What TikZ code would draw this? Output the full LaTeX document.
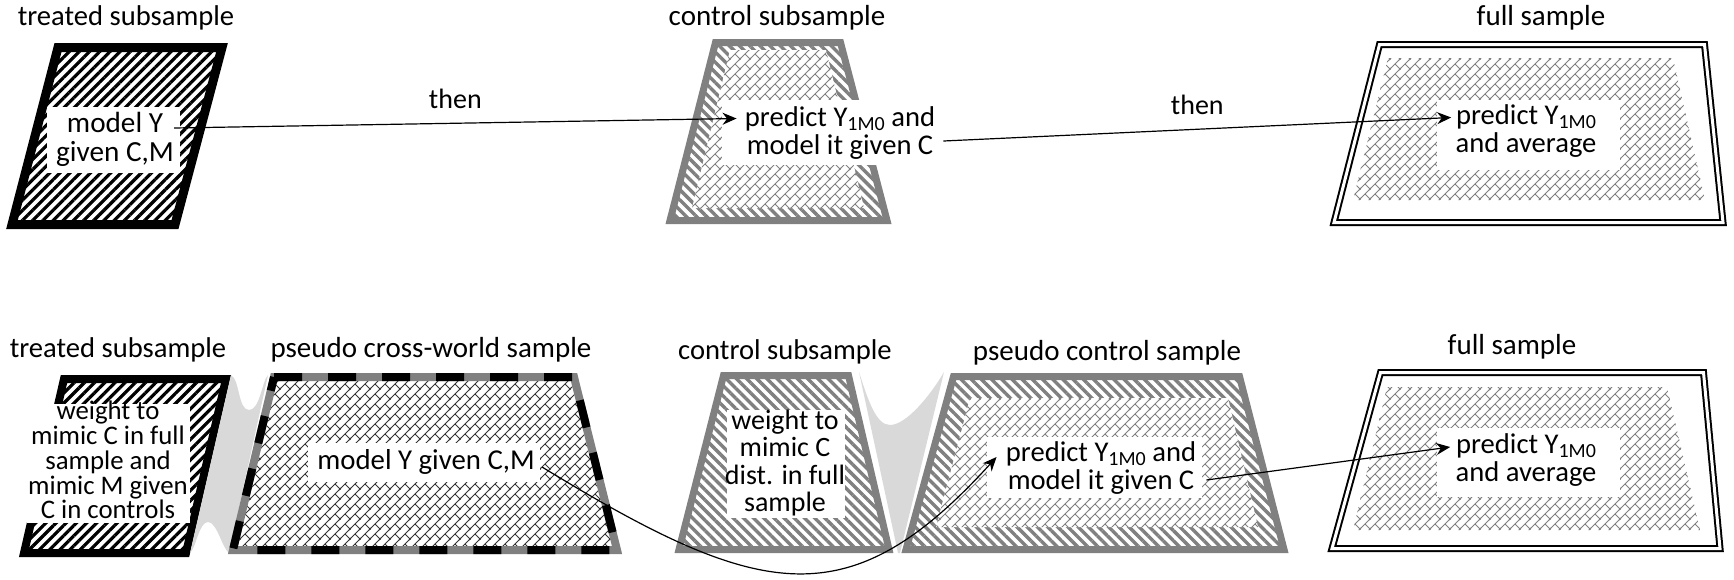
\documentclass[tikz,border=0pt]{standalone}
\usepackage{fontspec}
\setmainfont{Carlito}
\usetikzlibrary{patterns,patterns.meta,arrows.meta}

% diagonal brick tile: long "/" courses with short "\" joints
\pgfdeclarepatternformonly{diagbricks}{\pgfqpoint{-0.6pt}{-0.6pt}}{\pgfqpoint{5.6pt}{5.6pt}}{\pgfqpoint{5pt}{5pt}}{
  \pgfsetlinewidth{0.5pt}
  \pgfpathmoveto{\pgfqpoint{-0.6pt}{-0.6pt}}\pgfpathlineto{\pgfqpoint{5.6pt}{5.6pt}}
  \pgfpathmoveto{\pgfqpoint{5.3pt}{-0.3pt}}\pgfpathlineto{\pgfqpoint{2.5pt}{2.5pt}}
  \pgfusepath{stroke}}

\definecolor{bordergray}{HTML}{808080}
\definecolor{funnelgray}{HTML}{D9D9D9}

\newcommand{\fsz}[1]{\fontsize{#1}{#1}\selectfont}
% small lowered index, as in Y_{1M0}
\newcommand{\idx}[1]{\raisebox{-1.8pt}{\fontsize{10}{10}\selectfont #1}}

\tikzset{
  ttl/.style={font=\fsz{#1}, inner sep=0pt},
  txt/.style={align=center, inner sep=0pt},
  blackstripes/.style={pattern={Lines[angle=45,distance=3.6pt,line width=1.6pt]}, pattern color=black},
  graystripes/.style={pattern={Lines[angle=-45,distance=3.6pt,line width=1.7pt]}, pattern color=bordergray},
  bricks/.style={pattern=diagbricks, pattern color=#1},
  grayborder/.style={draw=bordergray, line width=3.5pt, line join=miter},
  blackborder/.style={draw=black, line width=#1, line join=miter},
  doubleborder/.style={draw=black, double=white, double distance=1.5pt, line width=1pt, line join=miter},
  whitebox/.style={fill=white},
  funnel/.style={fill=funnelgray},
  conn/.style={line width=0.6pt, -{Stealth[length=7pt,width=6pt]}},
  thenlbl/.style={font=\fsz{14}, inner sep=0pt},
}

\begin{document}
\begin{tikzpicture}[x=0.5pt,y=-0.5pt]
\useasboundingbox (0,0) rectangle (1734,579);

% ---------------- top row ----------------
% treated subsample
\draw[blackborder=4.5pt, blackstripes] (58,47.5) -- (222,47.5) -- (175,224.5) -- (12,224.5) -- cycle;
% control subsample
\path[graystripes] (715.5,42.5) -- (840.5,42.5) -- (887,220.5) -- (670,220.5) -- cycle;
\fill[white] (730,50) -- (826,50) -- (864,208) -- (692,208) -- cycle;
\path[bricks=bordergray] (730,50) -- (826,50) -- (864,208) -- (692,208) -- cycle;
\draw[grayborder] (715.5,42.5) -- (840.5,42.5) -- (887,220.5) -- (670,220.5) -- cycle;
% full sample
\path[bricks=gray] (1388,58) -- (1673,58) -- (1705,200) -- (1353,200) -- cycle;
\draw[doubleborder] (1379.5,44.5) -- (1704.5,44.5) -- (1723,222.5) -- (1334,222.5) -- cycle;

% text panels
\fill[whitebox] (47,107) rectangle (180,173);
\fill[whitebox] (722,100) rectangle (950,165);
\fill[whitebox] (1437,100) rectangle (1620,170);

% ---------------- bottom row ----------------
% treated subsample
\draw[blackborder=4pt, blackstripes] (64,379) -- (226,379) -- (186,553) -- (24,553) -- cycle;
% reweighting band
\fill[funnel] (231,375) .. controls (240,380) and (238,410) .. (249,410)
  .. controls (260,410) and (262,381) .. (268,375) -- (229,553)
  .. controls (222,548) and (217,522) .. (208,522)
  .. controls (199,522) and (196,548) .. (190,553) -- cycle;
% pseudo cross-world sample
\path[bricks=black!80] (274,377) -- (574,377) -- (617,550) -- (233,550) -- cycle;
\draw[draw=bordergray, line width=4pt, line join=miter] (274,377) -- (574,377) -- (617,550) -- (233,550) -- cycle;
\draw[draw=black, line width=4pt, dash pattern=on 14pt off 13pt] (274,377) -- (574,377) -- (617,550) -- (233,550) -- cycle;
% control subsample
\draw[grayborder, graystripes] (723.5,375.5) -- (848.5,375.5) -- (889,549.5) -- (679,549.5) -- cycle;
% reweighting band
\fill[funnel] (859,372) .. controls (868,400) and (876,425) .. (890,425)
  .. controls (906,425) and (930,396) .. (944,372) -- (900,553) -- (898,553) -- cycle;
% pseudo control sample
\path[graystripes] (953.5,376.5) -- (1239.5,376.5) -- (1284,549.5) -- (906,549.5) -- cycle;
\fill[white] (970,398) -- (1228,398) -- (1258,527) -- (936,527) -- cycle;
\path[bricks=bordergray] (970,398) -- (1228,398) -- (1258,527) -- (936,527) -- cycle;
\draw[grayborder] (953.5,376.5) -- (1239.5,376.5) -- (1284,549.5) -- (906,549.5) -- cycle;
% full sample
\path[bricks=gray] (1387,387) -- (1667,387) -- (1700,530) -- (1353,530) -- cycle;
\draw[doubleborder] (1380.5,372.5) -- (1703.5,372.5) -- (1720,548.5) -- (1332,548.5) -- cycle;

% text panels
\fill[whitebox] (27,404) rectangle (190,523);
\fill[whitebox] (308,443) rectangle (540,482);
\fill[whitebox] (727,410) rectangle (845,518);
\fill[whitebox] (987,437) rectangle (1202,498);
\fill[whitebox] (1437,428) rectangle (1620,497);

% ---------------- titles ----------------
\node[ttl=14.3] (h1) at (126,18) {treated subsample};
\node[ttl=14.5] (h2) at (777,18) {control subsample};
\node[ttl=14.5] (h3) at (1541,18) {full sample};
\node[ttl=14.3] (g1) at (118,350) {treated subsample};
\node[ttl=14.5] (g2) at (431,350) {pseudo cross-world sample};
\node[ttl=14.3] (g3) at (785,352) {control subsample};
\node[ttl=14.5] (g4) at (1107,353) {pseudo control sample};
\node[ttl=14.5] (g5) at (1512,347) {full sample};

% ---------------- step texts ----------------
\node[txt, font=\fontsize{14.6}{14.5}\selectfont] (t1) at (115,139) {model Y\\given C,M};
\node[txt, font=\fontsize{14.3}{14}\selectfont] (t2) at (840,133.5) {predict Y\idx{1M0} and\\model it given C};
\node[txt, font=\fontsize{14.3}{14}\selectfont] (t3) at (1526,131.5) {predict Y\idx{1M0}\\and average};

\node[txt, font=\fontsize{13.4}{12.4}\selectfont] (b1) at (108,460) {weight to\\mimic C in full\\sample and\\mimic M given\\C in controls};
\node[txt, font=\fontsize{14.4}{14}\selectfont] (b2) at (426,462) {model Y given C,M};
\node[txt, font=\fontsize{14}{13.75}\selectfont] (b3) at (785,463) {weight to\\mimic C\\dist. in full\\sample};
\node[txt, font=\fontsize{14.3}{14}\selectfont] (b4) at (1101,468.5) {predict Y\idx{1M0} and\\model it given C};
\node[txt, font=\fontsize{14.3}{14}\selectfont] (b5) at (1526,460) {predict Y\idx{1M0}\\and average};

% ---------------- connectors ----------------
\draw[conn] ([yshift=5.5pt]t1.east) -- node[pos=0.5, above=7pt, thenlbl] (then1) {then} ([xshift=-4pt,yshift=7.5pt]t2.west);
\draw[conn] ([xshift=4pt,yshift=-3.75pt]t2.east) -- node[pos=0.5, above=7pt, thenlbl] (then2) {then} ([xshift=-2pt,yshift=7pt]t3.west);
\draw[conn] ([xshift=3.5pt,yshift=-2.5pt]b2.east) .. controls +(218,133) and +(-148,163) .. ([xshift=-4.5pt,yshift=5.75pt]b4.west);
\draw[conn] ([xshift=5pt,yshift=-5.75pt]b4.east) -- ([xshift=-2.5pt,yshift=6.5pt]b5.west);

\end{tikzpicture}
\end{document}
